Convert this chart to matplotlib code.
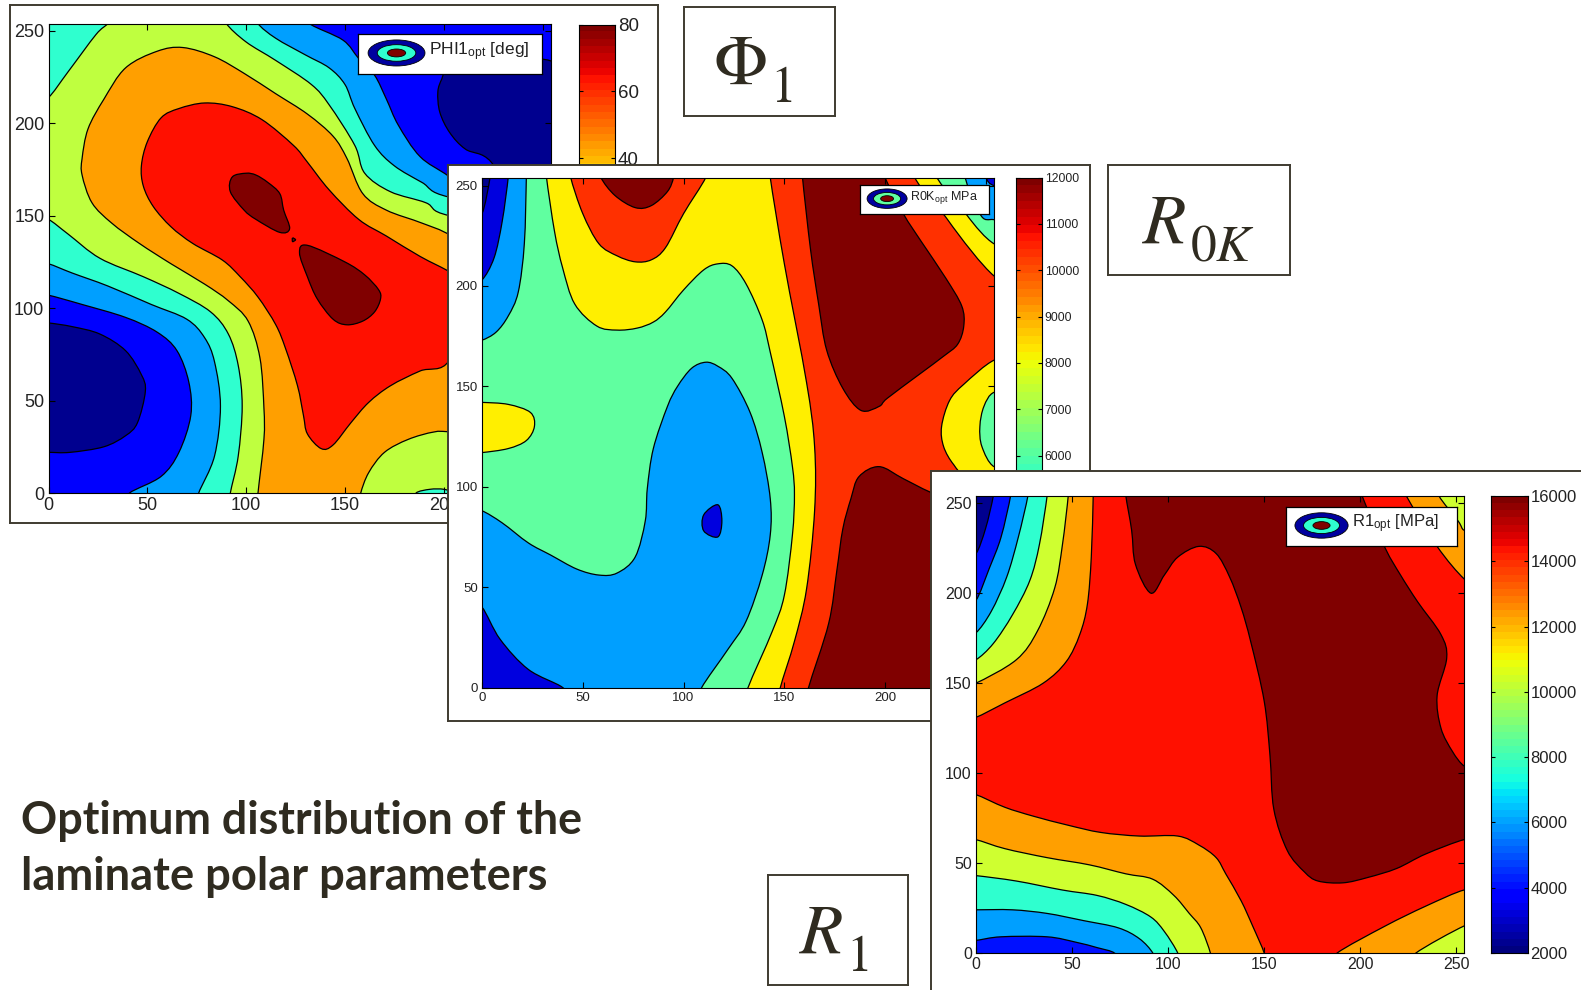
import numpy as np
import matplotlib
matplotlib.use('Agg')
import matplotlib.pyplot as plt
from matplotlib.patches import Ellipse, PathPatch
from matplotlib.path import Path

W, H = 1581, 990
plt.rcParams['font.family'] = ['Liberation Sans', 'DejaVu Sans']
plt.rcParams['mathtext.default'] = 'regular'

# band colours of the filled contours
NAVY = '#00008f'
BLUE = '#0000ff'
DBLUE = '#0000df'
AZURE = '#009fff'
CYAN = '#2fffcf'
GREEN = '#60ffa0'
YGREEN = '#bfff3f'
YGREEN3 = '#cfff30'
YELLOW = '#ffef00'
ORANGE = '#ff9f00'
ORED = '#ff3000'
RED = '#ff1000'
DRED = '#800000'
INK = '#2f2b20'
FRAME = '#3f3b30'

ticks = [0, 50, 100, 150, 200, 250]

# --- PHI1 contours (x, y) ---
phi_orange = [(106,0),(109,29),(109,46),(107,73),(101,93),(91,104),(79,113),(62,124),(46,135),(32,146),
              (22,157),(17,172),(17,181),(20,197),(28,213),(39,230),(55,239),(68,241),(84,236),(99,227),
              (115,216),(131,205),(144,193),(151,181),(159,162),(171,153),(189,146),(204,139),(230,120),
              (260,60),(260,-5),(106,-5)]
phi_red = [(138,24),(131,32),(129,42),(126,58),(120,78),(115,91),(106,106),(97,117),(88,126),(73,135),
           (62,144),(53,155),(48,166),(47,177),(50,190),(57,203),(66,208),(79,211),(93,209),(108,202),
           (124,188),(131,179),(142,164),(157,148),(171,139),(188,128),(204,119),(215,110),(203,72),
           (188,66),(173,58),(162,49),(153,38),(144,26)]
phi_dred1 = [(93,171),(100,173),(105,172),(111,168),(117,162),(119,153),(122,143),(117,141),(105,148),
             (99,153),(92,163)]
phi_dred2 = [(127,130),(131,134),(150,125),(160,118),(167,110),(168,105),(165,98),(159,93),(151,91),
             (144,94),(136,105),(131,117)]
phi_dred_dot = [(123.5,138),(125,137),(123.5,136)]
phi_yg_br = [(158,0),(162,11),(170,22),(182,29),(195,33),(204,33),(240,30),(240,-5),(158,-5)]
phi_cyan_br = [(186,0),(193,2),(200,2),(204,0),(204,-5),(186,-5)]
phi_cyan_ll = [(92,0),(96,20),(98,47),(96,69),(91,86),(82,98),(66,108),(48,117),(26,127),(10,140),
               (0,148),(-5,148),(-5,-5),(92,-5)]
phi_azure_ll = [(76,0),(84,20),(87,47),(84,71),(79,84),(70,94),(52,102),(30,112),(12,119),(0,124),
                (-5,124),(-5,-5),(76,-5)]
phi_blue_ll = [(41,0),(57,9),(66,22),(72,42),(71,60),(65,77),(55,87),(39,95),(17,102),(0,107),
               (-5,107),(-5,-5),(41,-5)]
phi_navy_ll = [(0,22),(11,22),(28,25),(39,31),(45,38),(49,55),(47,64),(39,77),(26,86),(12,90),(0,92),
               (-5,92),(-5,22)]
phi_cyan_tl = [(0,214),(10,228),(24,248),(30,254),(33,260),(-5,260),(-5,214)]
phi_cyan_tr = [(90,254),(100,244),(115,234),(133,221),(142,210),(155,188),(160,173),(173,163),(191,157),
               (203,150),(260,140),(260,260),(90,260)]
phi_azure_tr = [(106,254),(115,246),(130,237),(142,230),(150,221),(155,208),(165,188),(175,177),(189,168),
                (203,160),(260,150),(260,260),(106,260)]
phi_blue_tr = [(132,254),(149,245),(157,235),(165,226),(171,213),(177,199),(188,182),(203,171),(230,150),
               (260,150),(260,260),(132,260)]
phi_navy_tr = [(215,229),(202,229),(199,224),(197,217),(198,206),(203,195),(211,186),(224,179),(240,150),
               (260,150),(260,229)]
phi_layers = [(ORANGE, phi_orange), (RED, phi_red), (DRED, phi_dred1), (DRED, phi_dred2), (DRED, phi_dred_dot),
              (YGREEN, phi_yg_br), (CYAN, phi_cyan_br), (CYAN, phi_cyan_ll), (AZURE, phi_azure_ll),
              (BLUE, phi_blue_ll), (NAVY, phi_navy_ll), (CYAN, phi_cyan_tl), (CYAN, phi_cyan_tr),
              (AZURE, phi_azure_tr), (BLUE, phi_blue_tr), (NAVY, phi_navy_tr)]

# --- R0K contours ---
r0k_yellow = [(32,254),(36,227),(40,209),(46,191),(57,180),(67,178),(77,179),(85,182),(91,187),(100,198),
              (110,208),(117,211),(124,210),(131,201),(139,183),(143,167),(150,135),(154,110),(155,96),
              (154,76),(150,46),(144,28),(132,0),(132,-5),(265,-5),(265,260),(32,260)]
r0k_ored_top = [(44,254),(50,236),(58,221),(67,215),(76,212),(84,213),(91,219),(100,236),(111,254),
                (111,260),(44,260)]
r0k_ored = [(143,254),(150,211),(161,152),(165,120),(165,88),(161,49),(155,23),(148,0),(148,-5),
            (265,-5),(265,260),(143,260)]
r0k_yellow_tr = [(215,260),(231,233),(254,205),(265,205),(265,260)]
r0k_green_tr = [(225,260),(240,236),(254,221),(265,221),(265,260)]
r0k_azure_tr = [(240,260),(247,236),(254,233),(265,233),(265,260)]
r0k_blue_tr = [(250,254),(254,250),(265,250),(265,260),(250,260)]
r0k_dred = [(159,254),(163,218),(167,191),(171,168),(179,149),(188,138),(197,140),(201,144),(217,156),
            (229,165),(236,171),(239,180),(238,190),(230,204),(218,222),(209,236),(200,254),(200,260),(159,260)]
r0k_dred_low = [(162,0),(172,32),(176,58),(179,79),(183,94),(187,105),(197,110),(209,104),(223,97),
                (245,88),(265,80),(265,-5),(162,-5)]
r0k_yellow_r = [(254,163),(239,151),(232,143),(228,130),(229,120),(234,111),(241,105),(265,100),(265,163)]
r0k_green_r = [(254,147),(249,140),(247,130),(248,120),(254,110),(265,110),(265,147)]
r0k_yellow_l = [(0,142),(13,141),(24,137),(26,130),(22,123),(13,119),(0,117),(-5,117),(-5,142)]
r0k_azure_tl = [(22,254),(21,221),(18,197),(13,185),(7,177),(0,173),(-5,173),(-5,260),(22,260)]
r0k_blue_tl = [(13,254),(10,232),(6,214),(0,203),(-5,203),(-5,260),(13,260)]
r0k_navy_tl = [(4,254),(0,236),(-5,236),(-5,260),(4,260)]
r0k_azure = [(0,88),(10,82),(23,72),(34,66),(47,59),(58,56),(67,57),(76,65),(81,83),(82,99),(85,119),
             (92,140),(97,150),(104,159),(111,162),(117,160),(124,154),(133,137),(139,117),(143,94),
             (143,76),(139,56),(131,33),(122,19),(109,0),(109,-5),(-5,-5),(-5,88)]
r0k_blue_bl = [(0,40),(9,24),(23,9),(40,0),(40,-5),(-5,-5),(-5,40)]
r0k_blue_isle = [(110,86),(117,91),(119,83),(117,75),(110,78)]
r0k_dred_top = [(59,254),(66,245),(76,239),(84,240),(92,247),(95,254),(95,260),(59,260)]
r0k_layers = [(YELLOW, r0k_yellow), (ORED, r0k_ored_top), (ORED, r0k_ored), (YELLOW, r0k_yellow_tr),
              (GREEN, r0k_green_tr), (AZURE, r0k_azure_tr), (DBLUE, r0k_blue_tr), (DRED, r0k_dred),
              (DRED, r0k_dred_low), (YELLOW, r0k_yellow_r), (GREEN, r0k_green_r), (YELLOW, r0k_yellow_l),
              (AZURE, r0k_azure_tl), (DBLUE, r0k_blue_tl), (NAVY, r0k_navy_tl), (AZURE, r0k_azure),
              (DBLUE, r0k_blue_bl), (DBLUE, r0k_blue_isle), (DRED, r0k_dred_top)]

# --- R1 contours ---
r1_dred = [(78,254),(81,235),(83,216),(91,200),(98,210),(105,220),(116,226),(125,222),(132,209),(138,192),
           (143,173),(150,140),(153,110),(155,80),(162,57),(171,45),(178,40),(191,39),(204,42),(219,47),
           (234,55),(254,63),(260,62),(260,103),(254,104),(248,112),(242,125),(240,143),(245,164),(242,177),
           (230,195),(221,210),(213,225),(201,254),(201,260),(78,260)]
r1_orange_ll = [(0,88),(15,81),(30,76),(48,71),(65,67),(85,65),(105,65),(116,60),(125,53),(130,44),
                (138,29),(144,15),(150,0),(150,-5),(-5,-5),(-5,88)]
r1_yg_ll = [(0,63),(15,58),(37,53),(59,49),(78,44),(92,41),(103,32),(111,22),(117,14),(122,0),(122,-5),
            (-5,-5),(-5,63)]
r1_cyan_ll = [(0,43),(21,40),(45,35),(63,32),(78,27),(91,20),(98,12),(105,0),(105,-5),(-5,-5),(-5,43)]
r1_azure_ll = [(0,24),(19,24),(37,22),(56,18),(74,14),(85,8),(92,0),(92,-5),(-5,-5),(-5,24)]
r1_blue_ll = [(0,7),(13,9),(37,9),(52,6),(63,3),(72,0),(72,-5),(-5,-5),(-5,7)]
r1_orange_tl = [(61,254),(60,220),(58,194),(54,177),(47,162),(35,150),(15,139),(0,131),(-5,131),(-5,260),(61,260)]
r1_yg_tl = [(48,254),(45,227),(41,203),(32,179),(21,163),(0,150),(-5,150),(-5,260),(48,260)]
r1_cyan_tl = [(37,254),(33,227),(28,207),(19,188),(9,172),(0,163),(-5,163),(-5,260),(37,260)]
r1_azure_tl = [(27,254),(22,231),(16,209),(8,190),(0,178),(-5,178),(-5,260),(27,260)]
r1_blue_tl = [(18,254),(13,231),(7,214),(0,196),(-5,196),(-5,260),(18,260)]
r1_navy_tl = [(9,254),(5,236),(0,222),(-5,222),(-5,260),(9,260)]
r1_orange_br = [(188,0),(213,15),(234,26),(254,35),(260,33),(260,-5),(188,-5)]
r1_yg_br = [(229,0),(254,15),(260,15),(260,-5),(229,-5)]
r1_orange_tr = [(224,254),(240,226),(254,208),(260,206),(260,260),(222,260)]
r1_yg_tr = [(241,254),(251,240),(254,235),(260,235),(260,260),(241,260)]
r1_layers = [(DRED, r1_dred), (ORANGE, r1_orange_ll), (YGREEN3, r1_yg_ll), (CYAN, r1_cyan_ll),
             (AZURE, r1_azure_ll), ('#0010ff', r1_blue_ll), (ORANGE, r1_orange_tl), (YGREEN3, r1_yg_tl),
             (CYAN, r1_cyan_tl), (AZURE, r1_azure_tl), ('#0010ff', r1_blue_tl), (NAVY, r1_navy_tl),
             (ORANGE, r1_orange_br), (YGREEN3, r1_yg_br), (ORANGE, r1_orange_tr), (YGREEN3, r1_yg_tr)]

# colorbars
phi_cbar_lim = (-60, 80)
phi_cbar_ticks = [40, 60, 80]
r0k_cbar_lim = (1000, 12000)
r0k_cbar_ticks = [6000, 7000, 8000, 9000, 10000, 11000, 12000]
r1_cbar_lim = (2000, 16000)
r1_cbar_ticks = [2000, 4000, 6000, 8000, 10000, 12000, 14000, 16000]


def px(l, t, r, b):
    return [l / W, 1 - b / H, (r - l) / W, (b - t) / H]


def frame(box, z):
    ax = fig.add_axes(px(*box), zorder=z)
    ax.set_xticks([])
    ax.set_yticks([])
    for s in ax.spines.values():
        s.set_color(FRAME)
        s.set_linewidth(1.4)
    return ax


def smooth_outline(poly):
    # closed curve through the read points, so the contours are not angular
    p = np.array(poly, dtype=float)
    verts = [p[0]]
    codes = [Path.MOVETO]
    n = len(p)
    for i in range(n):
        a, b, c, d = p[i - 1], p[i], p[(i + 1) % n], p[(i + 2) % n]
        verts += [b + (c - a) / 6, c - (d - b) / 6, c]
        codes += [Path.CURVE4] * 3
    return Path(verts, codes)


def contour_panel(box, base, layers, fs, z):
    ax = fig.add_axes(px(*box), zorder=z)
    ax.set_facecolor(base)
    for col, poly in layers:
        ax.add_patch(PathPatch(smooth_outline(poly), fc=col, ec='k', lw=0.9))
    ax.set_xlim(0, 254)
    ax.set_ylim(0, 254)
    ax.set_xticks(ticks)
    ax.set_yticks(ticks)
    ax.tick_params(direction='in', top=True, right=True, length=4, width=0.8, labelsize=fs, pad=3,
                   labelcolor='#222222')
    return ax


def colorbar(box, lim, cticks, fs, z):
    ax = fig.add_axes(px(*box), zorder=z)
    grad = np.linspace(lim[0], lim[1], 64).reshape(-1, 1)
    ax.imshow(grad, cmap='jet', origin='lower', aspect='auto', extent=(0, 1, lim[0], lim[1]))
    ax.set_xticks([])
    ax.set_yticks(cticks)
    ax.yaxis.tick_right()
    ax.tick_params(axis='y', direction='in', left=True, right=True, length=3, width=0.8, labelsize=fs,
                   pad=2, labelcolor='#222222')
    return ax


def legend_box(box, label, mid, fs, z):
    ax = fig.add_axes(px(*box), zorder=z)
    ax.set_xlim(0, 1)
    ax.set_ylim(0, 1)
    ax.set_xticks([])
    ax.set_yticks([])
    for s in ax.spines.values():
        s.set_linewidth(0.9)
    ax.add_patch(Ellipse((0.21, 0.52), 0.31, 0.66, fc='#00009f', ec='k', lw=0.6))
    ax.add_patch(Ellipse((0.21, 0.52), 0.21, 0.42, fc=mid, ec='k', lw=0.6))
    ax.add_patch(Ellipse((0.21, 0.52), 0.10, 0.20, fc=DRED, ec='k', lw=0.6))
    ax.text(0.385, 0.56, label, fontsize=fs, va='center', ha='left', color='#222222')


def label_box(box, main, sub, dx):
    ax = frame(box, 1)
    ax.text(0.5 + dx, 0.29, main, transform=ax.transAxes, ha='right', va='baseline', fontsize=51, color=INK,
            family='STIXGeneral', math_fontfamily='stix')
    ax.text(0.5 + dx + 0.02, 0.13, sub, transform=ax.transAxes, ha='left', va='baseline', fontsize=37, color=INK,
            family='STIXGeneral', math_fontfamily='stix')


fig = plt.figure(figsize=(W / 100, H / 100), dpi=100, facecolor='white')

# Phi1
frame((9.5, 5, 658, 523), 2)
contour_panel((48.5, 23.5, 550.5, 493), YGREEN, phi_layers, 13, 3)
colorbar((579, 24.5, 615, 493), phi_cbar_lim, phi_cbar_ticks, 13.5, 3)
legend_box((358, 34, 541.5, 73.5), 'PHI1$_{opt}$ [deg]', CYAN, 12.5, 4)
label_box((684, 6.5, 835, 116), r'$\mathrm{\Phi}$', '1', 0.05)

# R0K
frame((448, 165, 1090, 721), 5)
contour_panel((482, 177.5, 994, 687.5), GREEN, r0k_layers, 9.5, 6)
colorbar((1016, 177.5, 1042, 687.5), r0k_cbar_lim, r0k_cbar_ticks, 8.8, 6)
legend_box((860, 184.5, 989, 214), 'R0K$_{opt}$ MPa', GREEN, 9, 7)
label_box((1108, 165, 1290, 275), r'$\mathit{R}$', r'$\mathrm{0}\mathit{K}$', -0.07)

# R1
frame((931, 471, 1600, 1010), 8)
contour_panel((976, 496, 1464, 953), RED, r1_layers, 11.5, 9)
colorbar((1491, 496, 1527.5, 953), r1_cbar_lim, r1_cbar_ticks, 12, 9)
legend_box((1285.5, 507, 1457, 545.5), 'R1$_{opt}$ [MPa]', CYAN, 12, 10)
label_box((768, 875, 907.5, 985), r'$\mathit{R}$', '1', 0.04)

fig.text(21 / W, 1 - 833.5 / H, 'Optimum distribution of the', fontsize=32.3, fontweight='bold', color=INK,
         family='Lato')
fig.text(21 / W, 1 - 890.5 / H, 'laminate polar parameters', fontsize=32.6, fontweight='bold', color=INK,
         family='Lato')

fig.savefig('out.png', dpi=100)
